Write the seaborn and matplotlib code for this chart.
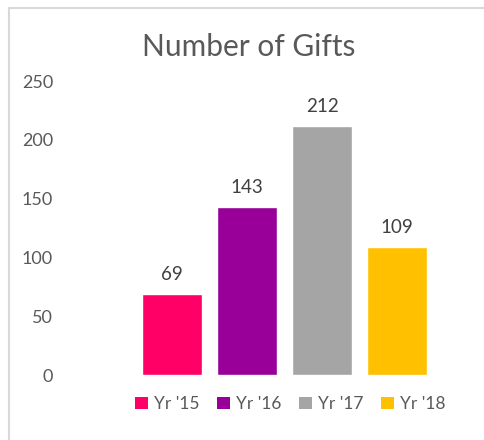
import matplotlib
matplotlib.use('Agg')
import matplotlib.pyplot as plt
from matplotlib.patches import Patch, Rectangle
import seaborn as sns

# Chart data
years = ["Yr '15", "Yr '16", "Yr '17", "Yr '18"]
gifts = [69, 143, 212, 109]
colors = ['#FF0066', '#990099', '#A5A5A5', '#FFC000']
yticks = [0, 50, 100, 150, 200, 250]

sns.set_style('white')
plt.rcParams['font.family'] = ['Lato', 'DejaVu Sans']

W, H = 484, 440
fig = plt.figure(figsize=(W / 100, H / 100), dpi=100)
ax = fig.add_axes([67 / W, 65 / H, (434.5 - 67) / W, (375 - 81) / H])

sns.barplot(x=years, y=gifts, hue=years, palette=colors, legend=False,
            width=0.8, saturation=1, ax=ax)

ax.set_ylim(0, 250)
ax.set_xlim(-1.4, 3.5)
ax.set_yticks(yticks)
ax.set_xticks([])
ax.set_xlabel('')
ax.set_ylabel('')
for s in ax.spines.values():
    s.set_visible(False)
ax.tick_params(axis='y', length=0, labelsize=13, labelcolor='#595959', pad=10)

for c in ax.containers:
    ax.bar_label(c, padding=8, fontsize=13.5, color='#404040')

fig.text(249 / W, 1 - 47 / H, 'Number of Gifts', ha='center', va='center',
         fontsize=21.5, color='#595959')

handles = [Patch(facecolor=col, edgecolor='none') for col in colors]
fig.legend(handles, years, loc='center', bbox_to_anchor=(290 / W, 1 - 404 / H),
           ncol=4, frameon=False, fontsize=12.5, labelcolor='#595959',
           handlelength=0.75, handleheight=0.75, handletextpad=0.35, columnspacing=1.0)

# light chart-area border (top and left edges visible)
fig.patches.append(Rectangle((8.5 / W, -0.1), 1.2, 1.1 - 8.5 / H,
                             transform=fig.transFigure, fill=False,
                             edgecolor='#D9D9D9', linewidth=1.5))

fig.savefig('out.png', dpi=100)
